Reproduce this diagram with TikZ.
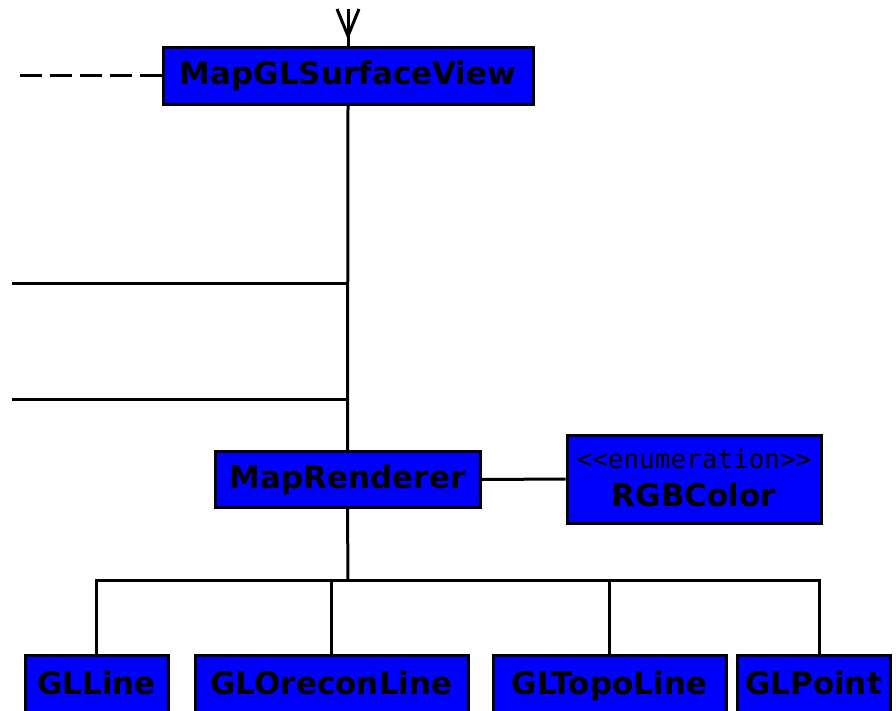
\documentclass[tikz,border=0pt]{standalone}
\usepackage{fontspec}
\setmainfont{DejaVu Sans}
\newfontfamily\stereofont{DejaVu Sans Mono}
\begin{document}
\begin{tikzpicture}[x=1pt,y=-1pt,
  wire/.style={line width=3pt},
  cls/.style={draw=black, line width=3pt, fill=blue, inner sep=0pt,
    font=\fontsize{31}{36}\selectfont\bfseries,
    text height=22pt, text depth=4pt},
  stereo/.style={inner sep=0pt, font=\fontsize{26}{30}\selectfont\stereofont},
  clsname/.style={inner sep=0pt, font=\fontsize{31}{36}\selectfont\bfseries}]
\useasboundingbox (0,0) rectangle (896,711);
\clip (0,0) rectangle (896,711);

% classes
\node[cls, minimum width=370pt, minimum height=57pt] (surf) at (348,76) {MapGLSurfaceView};
\node[cls, minimum width=265pt, minimum height=56pt] (rend) at (347.5,479.5) {MapRenderer};
\node[draw=black, line width=3pt, fill=blue, minimum width=254pt, minimum height=88pt] (rgb) at (694,479) {};
\node[stereo, anchor=base] (rgbst) at (694,468) {<{}<enumeration>{}>};
\node[clsname, anchor=base] (rgbname) at (694,506) {RGBColor};

\node[cls, minimum width=143pt, minimum height=60pt] (glline) at (96.5,685) {GLLine};
\node[cls, minimum width=273pt, minimum height=60pt] (gloreconline) at (331.5,685) {GLOreconLine};
\node[cls, minimum width=233pt, minimum height=60pt] (gltopoline) at (609.5,685) {GLTopoLine};
\node[cls, minimum width=153pt, minimum height=60pt] (glpoint) at (813.5,685) {GLPoint};

% incoming association from above
\coordinate (topend) at (348,9);
\coordinate (tip) at (348,36);
\draw[wire] (topend) -- (surf.north);
\draw[wire, line join=miter] (337,9) -- (tip) -- (359,9);

% dependency on the left
\coordinate (depend) at (20,76);
\draw[wire, dash pattern=on 22pt off 8pt] (depend) -- (surf.west);

% trunk down to the renderer
\draw[wire] (surf.south) -- (rend.north);
\coordinate (lineA) at (12,283);
\coordinate (lineB) at (12,399);
\draw[wire] (lineA) -- (lineA -| surf.south);
\draw[wire] (lineB) -- (lineB -| surf.south);

% renderer to colour enumeration
\draw[wire] (rend.east) -- (rgb.west);

% inheritance tree
\coordinate (bus) at (348,580);
\draw[wire] (rend.south) -- (bus);
\draw[wire] (glline.north) |- (bus);
\draw[wire] (gloreconline.north) |- (bus);
\draw[wire] (gltopoline.north) |- (bus);
\draw[wire] ([xshift=5.5pt]glpoint.north) |- (bus);
\end{tikzpicture}
\end{document}
